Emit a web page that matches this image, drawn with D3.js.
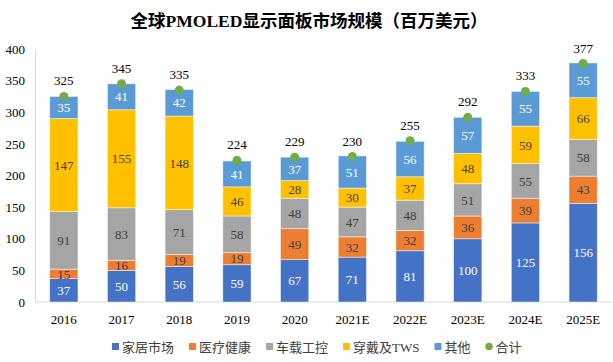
<!DOCTYPE html>
<html>
<head>
<meta charset="utf-8">
<script src="https://d3js.org/d3.v7.min.js"></script>
<style>
  body { margin: 0; background: #fff; }
  svg { display: block; }
</style>
</head>
<body>
<div id="chart"></div>
<script>
// chart data
const years = ['2016', '2017', '2018', '2019', '2020', '2021E', '2022E', '2023E', '2024E', '2025E'];
const home = [37, 50, 56, 59, 67, 71, 81, 100, 125, 156];
const medical = [15, 16, 19, 19, 49, 32, 32, 36, 39, 43];
const auto = [91, 83, 71, 58, 48, 47, 48, 51, 55, 58];
const wearable = [147, 155, 148, 46, 28, 30, 37, 48, 59, 66];
const other = [35, 41, 42, 41, 37, 51, 56, 57, 55, 55];
const totals = [325, 345, 335, 224, 229, 230, 255, 292, 333, 377];
const yTicks = [0, 50, 100, 150, 200, 250, 300, 350, 400];

const seriesNames = ['家居市场', '医疗健康', '车载工控', '穿戴及TWS', '其他'];
const seriesValues = [home, medical, auto, wearable, other];
const colors = ['#4472C4', '#ED7D31', '#A5A5A5', '#FFC000', '#5B9BD5'];
const labelColors = ['#fff', '#404040', '#404040', '#404040', '#fff'];

const width = 613, height = 362;
const margin = { top: 49, right: 1, bottom: 60, left: 35 };
const serif = '"Liberation Serif", "Times New Roman", serif';

const svg = d3.select('#chart').append('svg')
    .attr('width', width)
    .attr('height', height);

// title
svg.append('text')
    .attr('x', 309)
    .attr('y', 27)
    .attr('text-anchor', 'middle')
    .style('font-family', serif + ', "Noto Sans CJK SC"')
    .style('font-size', '17.5px')
    .style('font-weight', 'bold')
    .text('全球PMOLED显示面板市场规模（百万美元）');

const x = d3.scaleBand()
    .domain(years)
    .range([margin.left, width - margin.right])
    .paddingInner(0.51)
    .paddingOuter(0.255);

const y = d3.scaleLinear()
    .domain([0, 400])
    .range([height - margin.bottom, margin.top]);

// axes
const yAxis = svg.append('g')
    .attr('transform', `translate(${margin.left},0)`)
    .call(d3.axisLeft(y).tickValues(yTicks).tickSize(0).tickPadding(10));
yAxis.select('.domain').attr('stroke', '#d9d9d9');
yAxis.selectAll('text')
    .style('font-family', serif)
    .style('font-size', '13px')
    .attr('fill', '#000');

const xAxis = svg.append('g')
    .attr('transform', `translate(0,${y(0)})`)
    .call(d3.axisBottom(x).tickSize(0).tickPadding(13));
xAxis.select('.domain').attr('stroke', '#d9d9d9').attr('d', `M${margin.left},0H${width - margin.right}`);
xAxis.selectAll('text')
    .style('font-family', serif)
    .style('font-size', '13px')
    .attr('fill', '#000');

// stacked data
const stackRows = years.map((yr, i) => {
    const row = { year: yr };
    seriesNames.forEach((s, k) => { row[s] = seriesValues[k][i]; });
    return row;
});
const stacked = d3.stack().keys(seriesNames)(stackRows);

const layers = svg.append('g')
    .selectAll('g')
    .data(stacked)
    .enter().append('g')
    .attr('fill', (d, k) => colors[k]);

layers.selectAll('rect')
    .data(d => d)
    .enter().append('rect')
    .attr('x', d => x(d.data.year))
    .attr('y', d => y(d[1]))
    .attr('width', x.bandwidth())
    .attr('height', d => y(d[0]) - y(d[1]))
    .attr('stroke', 'rgba(255,255,255,0.6)')
    .attr('stroke-width', 0.8);

layers.each(function(d, k) {
    d3.select(this).selectAll('text')
        .data(d)
        .enter().append('text')
        .attr('x', s => x(s.data.year) + x.bandwidth() / 2)
        .attr('y', s => (y(s[0]) + y(s[1])) / 2)
        .attr('dy', '0.36em')
        .attr('text-anchor', 'middle')
        .attr('fill', labelColors[k])
        .style('font-family', serif)
        .style('font-size', '13px')
        .text(s => s[1] - s[0]);
});

// totals
svg.append('g')
    .selectAll('circle')
    .data(totals)
    .enter().append('circle')
    .attr('cx', (d, i) => x(years[i]) + x.bandwidth() / 2)
    .attr('cy', d => y(d))
    .attr('r', 4.5)
    .attr('fill', '#70AD47');

svg.append('g')
    .selectAll('text')
    .data(totals)
    .enter().append('text')
    .attr('x', (d, i) => x(years[i]) + x.bandwidth() / 2)
    .attr('y', d => y(d) - 11)
    .attr('text-anchor', 'middle')
    .attr('fill', '#000')
    .style('font-family', serif)
    .style('font-size', '13px')
    .text(d => d);

// legend
const legendItems = seriesNames.map((s, k) => ({ name: s, color: colors[k], type: 'square' }));
legendItems.push({ name: '合计', color: '#70AD47', type: 'circle' });

const legend = svg.append('g').attr('transform', 'translate(0,347)');
let lx = 112;
legendItems.forEach(item => {
    const g = legend.append('g').attr('transform', `translate(${lx},0)`);
    if (item.type === 'square') {
        g.append('rect').attr('x', 0).attr('y', -4).attr('width', 7).attr('height', 7).attr('fill', item.color);
    } else {
        g.append('circle').attr('cx', 3.5).attr('cy', -0.5).attr('r', 3.8).attr('fill', item.color);
    }
    const t = g.append('text')
        .attr('x', 10)
        .attr('y', 0)
        .attr('dy', '0.35em')
        .attr('fill', '#404040')
        .style('font-family', serif + ', "Noto Sans CJK SC"')
        .style('font-size', '13px')
        .text(item.name);
    lx += 10 + t.node().getComputedTextLength() + 15;
});
</script>
</body>
</html>
